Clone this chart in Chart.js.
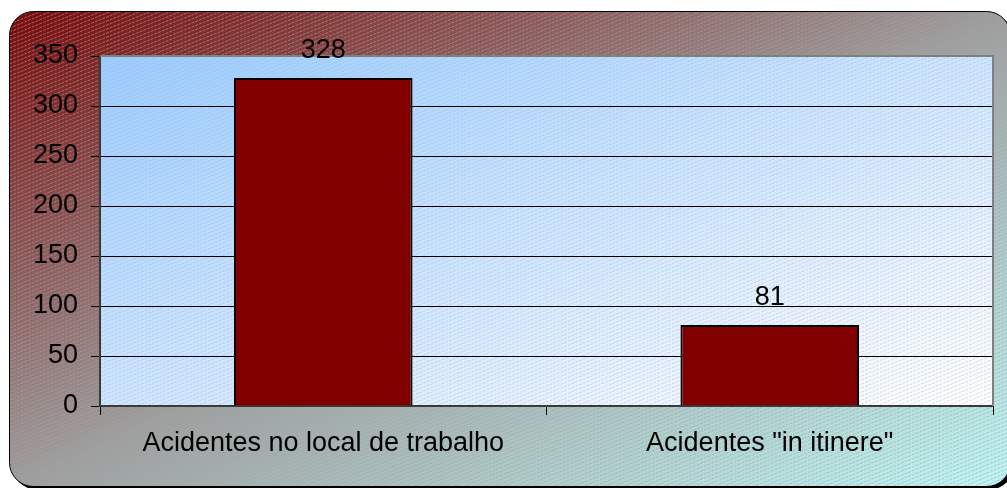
<!DOCTYPE html>
<html>
<head>
<meta charset="utf-8">
<script src="https://cdn.jsdelivr.net/npm/chart.js@4"></script>
<style>
  html, body { margin: 0; padding: 0; background: #ffffff; }
  #wrap { width: 1007px; height: 488px; }
</style>
</head>
<body>
<div id="wrap"><canvas id="accidents"></canvas></div>
<script>
// data
var categories = ['Acidentes no local de trabalho', 'Acidentes "in itinere"'];
var values = [328, 81];
var yMin = 0, yMax = 350, yStep = 50;

var FONT = 'Liberation Sans, Arial, sans-serif';

// light upward diagonal hatching over a region
var hatch = function(ctx, x, y, w, h, color){
    ctx.save();
    ctx.beginPath();
    ctx.rect(x, y, w, h);
    ctx.clip();
    ctx.strokeStyle = color;
    ctx.lineWidth = 1;
    ctx.setLineDash([3, 1]);
    var slope = 0.4;
    for (var yy = y; yy < y + h + w * slope; yy += 4) {
        ctx.beginPath();
        ctx.moveTo(x, yy + 0.5);
        ctx.lineTo(x + w, yy + 0.5 - w * slope);
        ctx.stroke();
    }
    ctx.restore();
};

// gradient that runs corner to corner on the box (normalised diagonal)
var diagGradient = function(ctx, x, y, w, h){
    var k = 2 * w * h / (w * w + h * h);
    return ctx.createLinearGradient(x, y, x + h * k, y + w * k);
};

var roundRect = function(ctx, x, y, w, h, r){
    ctx.beginPath();
    ctx.moveTo(x + r, y);
    ctx.lineTo(x + w - r, y);
    ctx.arcTo(x + w, y, x + w, y + r, r);
    ctx.lineTo(x + w, y + h - r);
    ctx.arcTo(x + w, y + h, x + w - r, y + h, r);
    ctx.lineTo(x + r, y + h);
    ctx.arcTo(x, y + h, x, y + h - r, r);
    ctx.lineTo(x, y + r);
    ctx.arcTo(x, y, x + r, y, r);
    ctx.closePath();
};

var backgroundPlugin = {
    id: 'backgroundPlugin',
    beforeDraw: function(chart){
        var ctx = chart.ctx;
        var a = chart.chartArea;
        var bx = 9.5, by = 11.5, bw = 1001, bh = 475;

        ctx.save();
        // shadow
        roundRect(ctx, bx + 3, by + 3, bw, bh, 24);
        ctx.fillStyle = '#000000';
        ctx.fill();
        // outer box
        roundRect(ctx, bx, by, bw, bh, 24);
        var g = diagGradient(ctx, bx, by, bw, bh);
        g.addColorStop(0, '#7a0808');
        g.addColorStop(0.5, '#9e9e9e');
        g.addColorStop(1, '#bdf8f6');
        ctx.fillStyle = g;
        ctx.fill();
        ctx.save();
        ctx.clip();
        hatch(ctx, bx, by, bw, bh, 'rgba(165,165,165,0.6)');
        ctx.restore();
        roundRect(ctx, bx, by, bw, bh, 24);
        ctx.strokeStyle = '#000000';
        ctx.lineWidth = 1;
        ctx.stroke();

        // plot area
        var pw = a.right - a.left, ph = a.bottom - a.top;
        var pg = diagGradient(ctx, a.left, a.top, pw, ph);
        pg.addColorStop(0, '#99ccff');
        pg.addColorStop(1, '#ffffff');
        ctx.fillStyle = pg;
        ctx.fillRect(a.left, a.top, pw, ph);
        hatch(ctx, a.left, a.top, pw, ph, 'rgba(175,175,200,0.45)');
        ctx.restore();
    },
    afterDraw: function(chart){
        var ctx = chart.ctx;
        var a = chart.chartArea;
        ctx.save();
        ctx.strokeStyle = '#808080';
        ctx.lineWidth = 2;
        ctx.beginPath();
        ctx.moveTo(a.left, a.top);
        ctx.lineTo(a.right, a.top);
        ctx.lineTo(a.right, a.bottom);
        ctx.stroke();

        // value labels on top of everything
        var meta = chart.getDatasetMeta(0);
        ctx.font = '27px ' + FONT;
        ctx.fillStyle = '#000000';
        ctx.textAlign = 'center';
        ctx.textBaseline = 'alphabetic';
        for (var i = 0; i < meta.data.length; i++) {
            var bar = meta.data[i];
            ctx.fillText(String(values[i]), bar.x, bar.y - 20);
        }
        ctx.restore();
    }
};

const config = {
    type: 'bar',
    data: {
        labels: categories,
        datasets: [{
            data: values,
            backgroundColor: '#800000',
            borderColor: '#000000',
            borderWidth: 2,
            categoryPercentage: 1,
            barPercentage: 0.4
        }]
    },
    options: {
        responsive: true,
        maintainAspectRatio: false,
        animation: false,
        layout: { padding: { top: 56, right: 14, left: 0, bottom: 0 } },
        plugins: {
            legend: { display: false },
            tooltip: { enabled: false }
        },
        scales: {
            x: {
                afterFit: function(scale){ scale.height = 82; },
                grid: {
                    offset: true,
                    drawOnChartArea: false,
                    color: '#000000',
                    tickLength: 9
                },
                border: { color: '#3a3a3a', width: 2 },
                ticks: {
                    color: '#000000',
                    padding: 12,
                    maxRotation: 0,
                    font: { family: FONT, size: 27 }
                }
            },
            y: {
                min: yMin,
                max: yMax,
                afterFit: function(scale){ scale.width = 100; },
                grid: {
                    color: '#000000',
                    lineWidth: 1,
                    tickLength: 9
                },
                border: { color: '#3a3a3a', width: 2 },
                ticks: {
                    stepSize: yStep,
                    color: '#000000',
                    padding: 13,
                    font: { family: FONT, size: 27 }
                }
            }
        }
    },
    plugins: [backgroundPlugin]
};

new Chart(document.getElementById('accidents'), config);
</script>
</body>
</html>
